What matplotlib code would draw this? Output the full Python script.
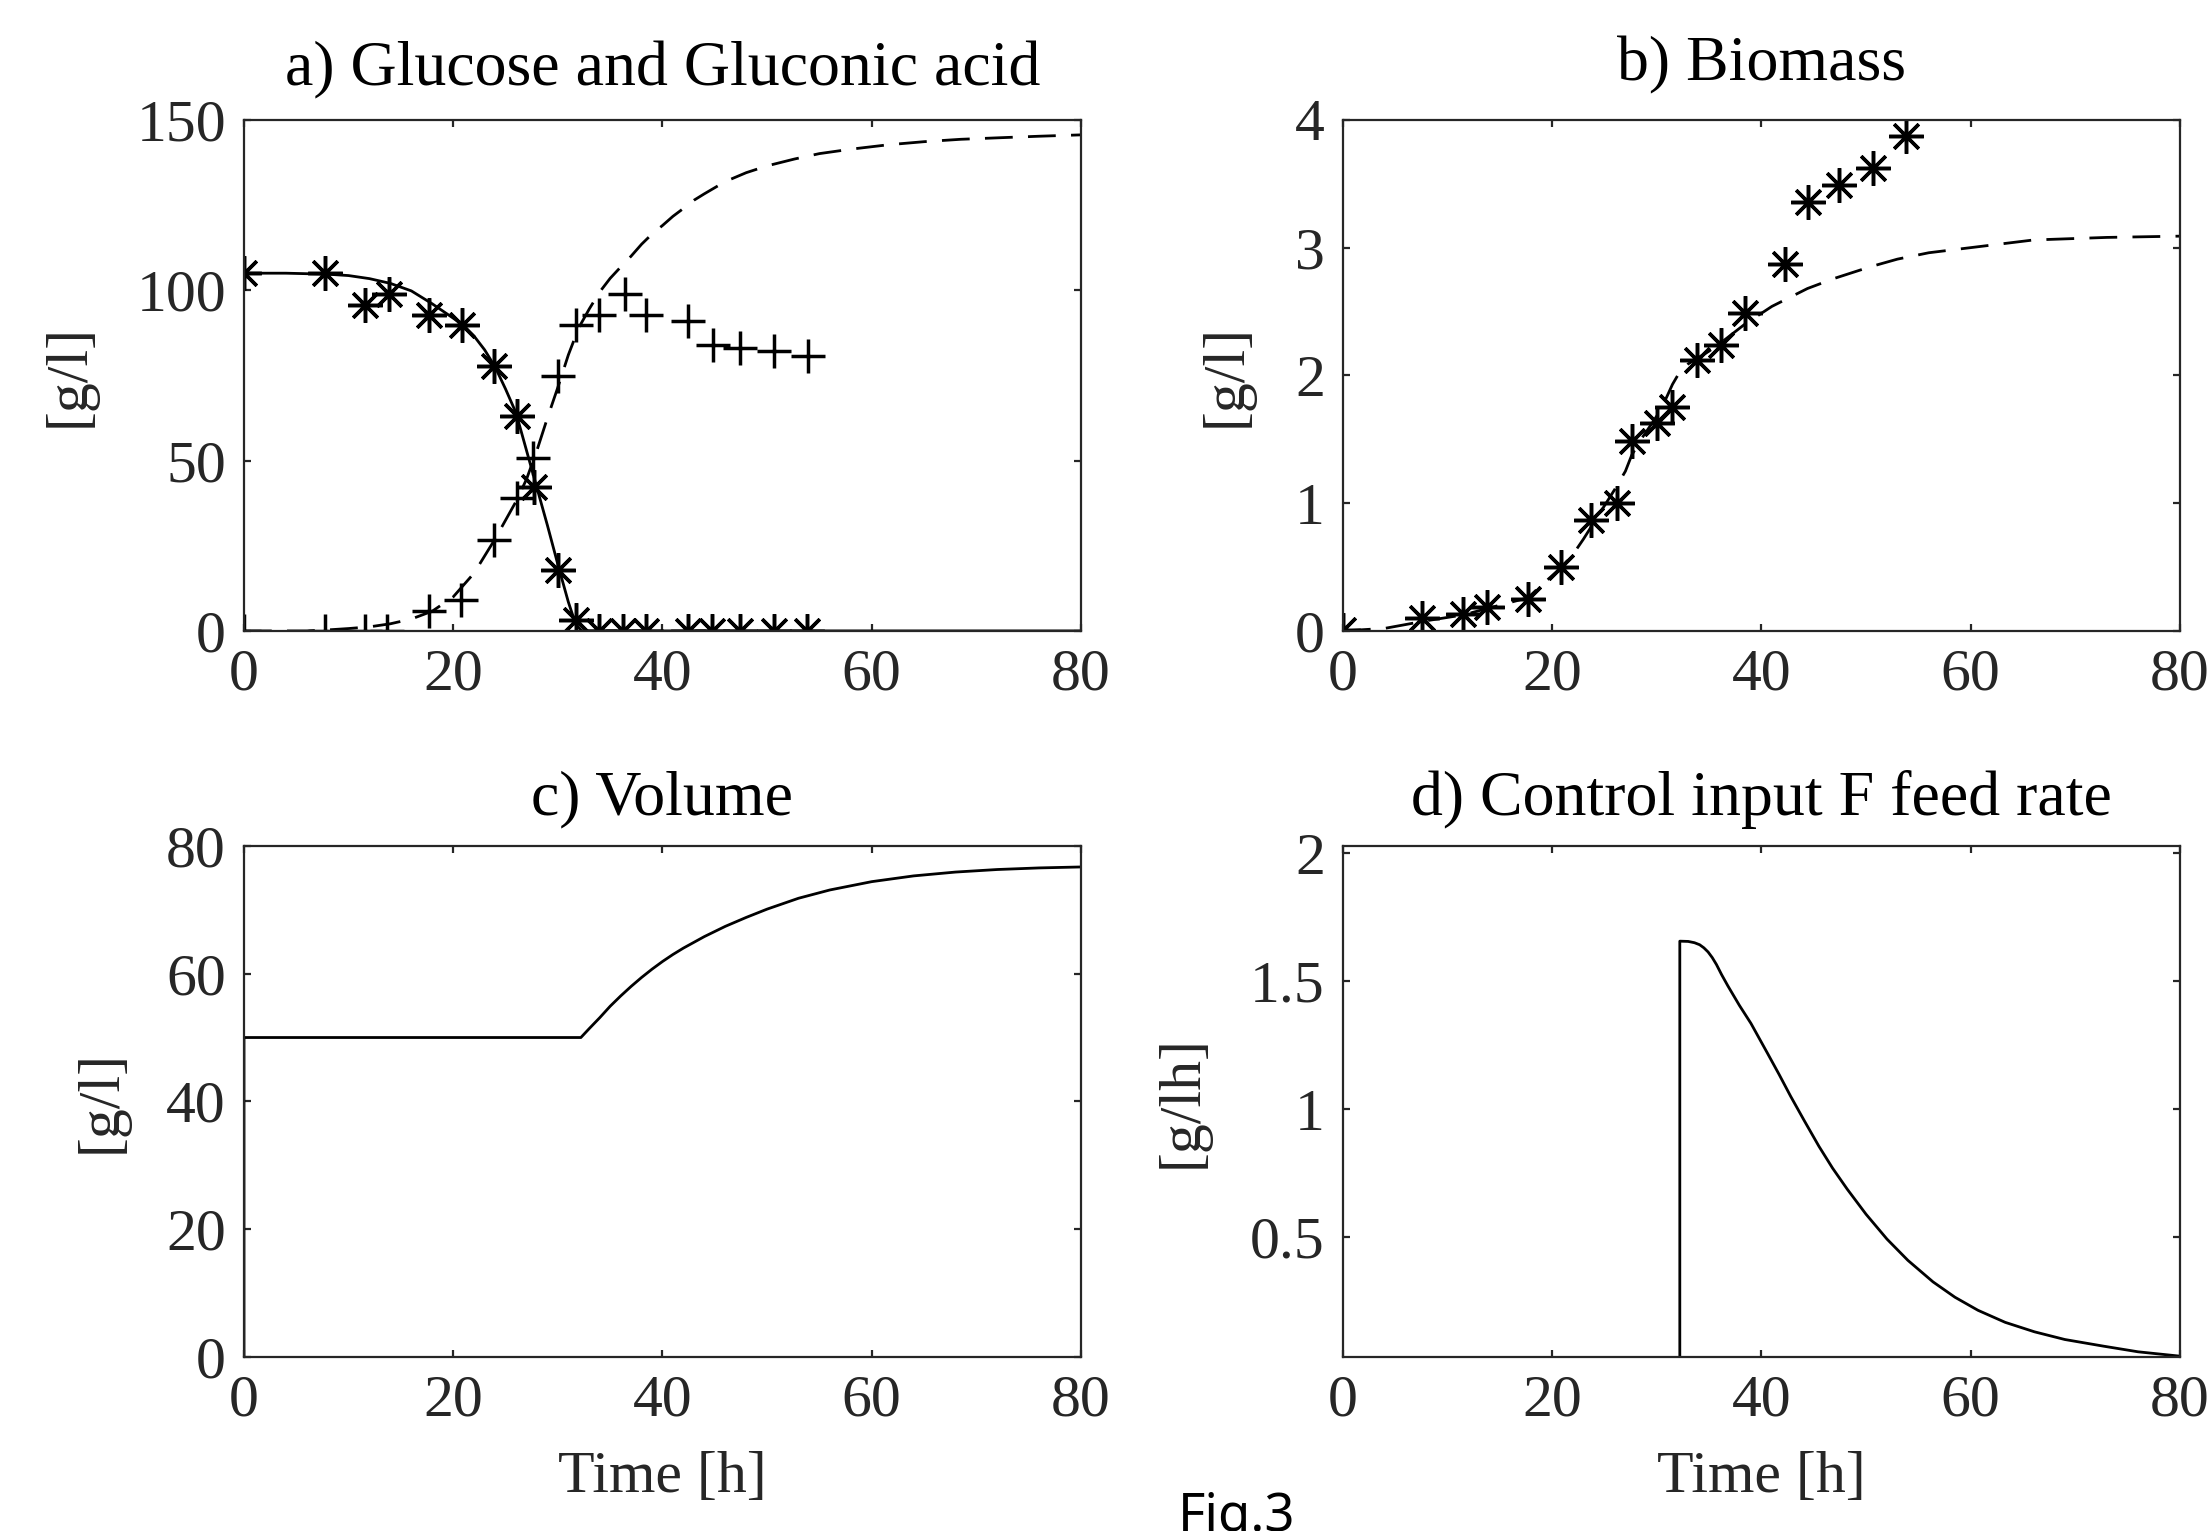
import matplotlib
matplotlib.use("Agg")
import matplotlib.pyplot as plt

# ---------------- data ----------------
# a) Glucose (asterisks) and gluconic acid (plus) measurements
t_meas = [0, 7.7, 11.6, 13.9, 17.7, 20.8, 23.9, 26.1, 27.7, 30.0, 31.7,
          33.9, 36.2, 38.4, 42.4, 44.7, 47.4, 50.7, 53.8]
glucose_meas = [105, 105, 95.8, 99, 92.7, 89.9, 77.8, 63, 42.2, 18, 3.1,
                0, 0, 0, 0, 0, 0, 0, 0]
t_meas_p = [0, 7.7, 11.6, 13.7, 17.7, 20.7, 23.9, 26.1, 27.6, 30.0, 31.7,
            33.9, 36.4, 38.4, 42.4, 44.8, 47.4, 50.7, 53.9]
gluconic_meas = [0, 0, 0, 0, 5.9, 9.1, 26.8, 39, 50.8, 74.8, 89.9,
                 92.7, 98.75, 92.7, 90.9, 83.9, 83, 82.1, 80.7]

# a) model curves
t_glu = [0, 4, 8, 10, 12, 14, 16, 18, 20, 21, 22, 23, 24, 25, 26, 27, 28,
         29, 30, 31, 31.7, 32.3, 40, 50, 60, 70, 80]
glucose_model = [105, 105, 104.7, 104.3, 103.4, 102, 99.8, 96, 91.8, 89.6,
                 86.5, 82.5, 77.5, 71, 64, 53, 42, 31, 19.5, 8.5, 2, 0,
                 0, 0, 0, 0, 0]
t_gla = [0, 6, 8, 10, 12, 14, 16, 18, 20, 22, 24, 26, 27, 28, 29, 30, 31,
         32, 33, 34, 35, 36, 37, 38, 39, 40, 41, 42, 43, 44, 46, 48, 50,
         52.6, 55, 58, 61.6, 65, 68.5, 72.6, 76, 80]
gluconic_model = [0, 0, 0.3, 0.7, 1.2, 2.1, 3.5, 5.8, 10, 17, 27, 38, 44.5,
                  53, 62.5, 71.5, 81, 89, 94.5, 99.5, 103.5, 106.8, 110,
                  113.5, 116.5, 119, 121.7, 124, 126.4, 128.3, 131.9, 134.5,
                  136.5, 138.5, 140.1, 141.4, 142.7, 143.6, 144.3, 144.8,
                  145.2, 145.6]

# b) Biomass
biomass_t = [0, 7.6, 11.5, 13.8, 17.7, 20.8, 23.7, 26.2, 27.6, 30.0, 31.5,
             33.8, 36.1, 38.4, 42.3, 44.5, 47.4, 50.7, 53.8]
biomass_meas = [0.01, 0.10, 0.13, 0.19, 0.25, 0.50, 0.87, 1.0, 1.49, 1.625,
                1.75, 2.12, 2.24, 2.49, 2.87, 3.36, 3.49, 3.62, 3.87]
t_bio = [0, 4, 8, 11.5, 14, 17.7, 19, 20.8, 22, 23, 24, 25, 26, 27, 27.6,
         28.5, 29.5, 30.3, 31, 31.5, 32, 32.5, 33, 33.8, 35, 36.2, 38.4, 41,
         44.4, 47, 50.4, 53, 56, 60, 66, 73, 80]
biomass_model = [0, 0.02, 0.08, 0.125, 0.18, 0.26, 0.36, 0.49, 0.6, 0.72,
                 0.85, 0.98, 1.11, 1.25, 1.375, 1.5, 1.62, 1.72, 1.84, 1.93,
                 2.0, 2.05, 2.09, 2.13, 2.19, 2.26, 2.4, 2.54, 2.68, 2.76,
                 2.85, 2.91, 2.96, 3.0, 3.06, 3.08, 3.09]

# c) Volume
t_vol = [0, 0, 32.2, 33, 34, 35, 36, 37, 38, 39, 40, 41, 42, 43, 44, 46,
         48, 50, 53, 56, 60, 64, 68, 72, 76, 80]
volume = [0, 50, 50, 51.4, 53.1, 54.9, 56.5, 58.0, 59.4, 60.7, 61.9, 63.0,
          64.0, 64.9, 65.8, 67.4, 68.8, 70.1, 71.8, 73.1, 74.4, 75.3, 75.9,
          76.3, 76.55, 76.7]

# d) Feed rate
t_feed = [0, 32.2, 32.2, 33.0, 33.6, 34.1, 34.5, 34.9, 35.3, 35.7, 36.2,
          36.8, 37.9, 39.0, 40.6, 41.7, 42.8, 44.1, 45.5, 46.8, 48.2, 50.0,
          52.0, 54.0, 56.4, 58.5, 60.7, 63.3, 66.1, 69.0, 72.7, 76.0, 80]
feed = [0, 0, 1.656, 1.655, 1.650, 1.642, 1.630, 1.614, 1.592, 1.565, 1.525,
        1.481, 1.405, 1.335, 1.217, 1.135, 1.05, 0.955, 0.855, 0.77, 0.688,
        0.59, 0.493, 0.41, 0.326, 0.266, 0.215, 0.168, 0.131, 0.101, 0.075,
        0.053, 0.036]

x_ticks = [0, 20, 40, 60, 80]

# ---------------- styling ----------------
plt.rcParams['font.family'] = ['Liberation Serif', 'DejaVu Serif']
AX_COLOR = '#262626'
FS = 43
TFS = 46
LW = 2.0
asterisk = (8, 2, 0)

fig = plt.figure(figsize=(22.12, 15.31), dpi=100)

W, H = 0.3784, 0.3338
pos = {
    'a': [0.1103, 0.5879, W, H],
    'b': [0.6071, 0.5879, W, H],
    'c': [0.1103, 0.1137, W, H],
    'd': [0.6071, 0.1137, W, H],
}


def style(ax):
    for s in ax.spines.values():
        s.set_color(AX_COLOR)
        s.set_linewidth(1.6)
    ax.tick_params(direction='in', top=True, right=True, length=5,
                   width=1.6, color=AX_COLOR, labelsize=FS,
                   labelcolor=AX_COLOR, pad=13)
    ax.set_xlim(0, 80)
    ax.set_xticks(x_ticks)


mkw = dict(linestyle='none', color='black', markersize=25,
           markeredgewidth=2.5)
DASH = (10, 5.5)

# a)
ax = fig.add_axes(pos['a'])
style(ax)
ax.plot(t_glu, glucose_model, color='black', lw=LW)
ax.plot(t_gla, gluconic_model, color='black', lw=LW, dashes=DASH)
ax.plot(t_meas, glucose_meas, marker=asterisk, **mkw)
ax.plot(t_meas_p, gluconic_meas, marker='+', **mkw)
ax.set_ylim(0, 150)
ax.set_yticks([0, 50, 100, 150])
ax.set_ylabel('[g/l]', fontsize=FS, color=AX_COLOR, va='center')
ax.yaxis.set_label_coords(-0.208, 0.5)
ax.set_title('a) Glucose and Gluconic acid', fontsize=TFS, y=1.096,
             va='center', pad=0)

# b)
ax = fig.add_axes(pos['b'])
style(ax)
ax.plot(t_bio, biomass_model, color='black', lw=LW, dashes=DASH)
ax.plot(biomass_t, biomass_meas, marker=asterisk, **mkw)
ax.set_ylim(0, 4)
ax.set_yticks([0, 1, 2, 3, 4])
ax.set_ylabel('[g/l]', fontsize=FS, color=AX_COLOR, va='center')
ax.yaxis.set_label_coords(-0.139, 0.5)
ax.set_title('b) Biomass', fontsize=TFS, y=1.106, va='center', pad=0)

# c)
ax = fig.add_axes(pos['c'])
style(ax)
ax.plot(t_vol, volume, color='black', lw=LW)
ax.set_ylim(0, 80)
ax.set_yticks([0, 20, 40, 60, 80])
ax.set_ylabel('[g/l]', fontsize=FS, color=AX_COLOR, va='center')
ax.yaxis.set_label_coords(-0.170, 0.5)
ax.set_xlabel('Time [h]', fontsize=FS, color=AX_COLOR, va='center')
ax.xaxis.set_label_coords(0.5, -0.237)
ax.set_title('c) Volume', fontsize=TFS, y=1.090, va='center', pad=0)

# d)
ax = fig.add_axes(pos['d'])
style(ax)
ax.plot(t_feed, feed, color='black', lw=LW)
ax.set_ylim(0.033, 2.028)
ax.set_yticks([0.5, 1, 1.5, 2])
ax.set_yticklabels(['0.5', '1', '1.5', '2'])
ax.set_ylabel('[g/lh]', fontsize=FS, color=AX_COLOR, va='center')
ax.yaxis.set_label_coords(-0.192, 0.5)
ax.set_xlabel('Time [h]', fontsize=FS, color=AX_COLOR, va='center')
ax.xaxis.set_label_coords(0.5, -0.237)
ax.set_title('d) Control input F feed rate', fontsize=TFS, y=1.090,
             va='center', pad=0)

fig.text(0.5325, 0.0, 'Fig.3', fontsize=38,
         family=['Noto Sans', 'DejaVu Sans'], ha='left', va='baseline',
         color='black')

fig.savefig('out.png', dpi=100)
